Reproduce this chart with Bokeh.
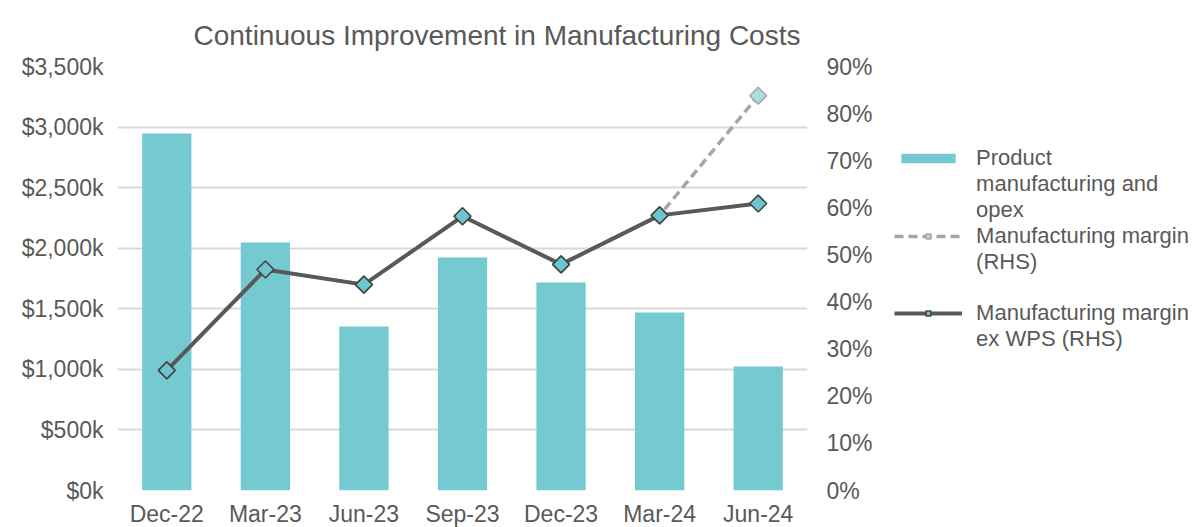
from bokeh.plotting import figure
from bokeh.models import (Range1d, LinearAxis, FixedTicker, Legend, LegendItem, Title, FactorRange)
from bokeh.embed import file_html
from bokeh.resources import INLINE
import math

categories = ["Dec-22", "Mar-23", "Jun-23", "Sep-23", "Dec-23", "Mar-24", "Jun-24"]
costs_k = [2947, 2047, 1354, 1923, 1717, 1469, 1024]
margin_pct = [25.5, 46.9, 43.7, 58.2, 48.0, 58.4, 83.8]
margin_ex_wps_pct = [25.5, 46.9, 43.7, 58.2, 48.0, 58.4, 60.9]
left_ticks = [0, 500, 1000, 1500, 2000, 2500, 3000, 3500]
left_labels = ["$0k", "$500k", "$1,000k", "$1,500k", "$2,000k", "$2,500k", "$3,000k", "$3,500k"]
right_ticks = [0, 10, 20, 30, 40, 50, 60, 70, 80, 90]
right_labels = ["0%", "10%", "20%", "30%", "40%", "50%", "60%", "70%", "80%", "90%"]
legend_lines = [
    ("Product", "bar"), ("manufacturing and", None), ("opex", None),
    ("Manufacturing margin", "dashed"), ("(RHS)", None), (" ", None),
    ("Manufacturing margin", "solid"), ("ex WPS (RHS)", None),
]

FONT = "Liberation Sans"
TXT = "#595959"
GRID = "#D9D9D9"
BAR = "#75C9D0"

p = figure(x_range=FactorRange(*categories), y_range=Range1d(0, 3500),
           frame_width=690, frame_height=424, output_backend="svg",
           toolbar_location=None, min_border_left=117, min_border_top=66,
           min_border_bottom=36, min_border_right=385, outline_line_color=None,
           background_fill_color="white", border_fill_color="white")

p.extra_y_ranges = {"pct": Range1d(0, 90)}

t = Title(text="Continuous Improvement in Manufacturing Costs", text_font=FONT,
          text_font_size="28px", text_font_style="normal", text_color=TXT,
          align="left", offset=76, standoff=31)
p.add_layout(t, "above")

bars = p.vbar(x=categories, top=costs_k, width=0.5, fill_color=BAR, line_color=None)

dashed = p.line(x=categories, y=margin_pct, y_range_name="pct", line_color="#A6A6A6",
                line_width=3.5, line_dash="9 5")
dashed_m = p.scatter(x=categories, y=margin_pct, y_range_name="pct", marker="square",
                     size=12, angle=math.pi / 4, fill_color="#A9DDE3",
                     line_color="#A6A6A6", line_width=1.5)
solid = p.line(x=categories, y=margin_ex_wps_pct, y_range_name="pct", line_color="#595959",
               line_width=4)
solid_m = p.scatter(x=categories, y=margin_ex_wps_pct, y_range_name="pct", marker="square",
                    size=12, angle=math.pi / 4, fill_color="#6CC6CE",
                    line_color="#404040", line_width=1.5)
blank = p.scatter(x=[], y=[], marker="square", size=1, fill_alpha=0, line_alpha=0)

# left axis
ax = p.yaxis[0]
ax.ticker = FixedTicker(ticks=left_ticks)
ax.major_label_overrides = {k: v for k, v in zip(left_ticks, left_labels)}
ax.axis_line_color = None
ax.major_tick_line_color = None
ax.minor_tick_line_color = None
ax.major_label_text_font = FONT
ax.major_label_text_font_size = "23px"
ax.major_label_text_color = TXT
ax.major_label_standoff = 8

# right axis
ra = LinearAxis(y_range_name="pct", ticker=FixedTicker(ticks=right_ticks))
ra.major_label_overrides = {k: v for k, v in zip(right_ticks, right_labels)}
ra.axis_line_color = None
ra.major_tick_line_color = None
ra.minor_tick_line_color = None
ra.major_label_text_font = FONT
ra.major_label_text_font_size = "23px"
ra.major_label_text_color = TXT
ra.major_label_standoff = 13
p.add_layout(ra, "right")

xa = p.xaxis[0]
xa.axis_line_color = None
xa.major_tick_line_color = None
xa.minor_tick_line_color = None
xa.major_label_text_font = FONT
xa.major_label_text_font_size = "23px"
xa.major_label_text_color = TXT
xa.major_label_standoff = 4

p.xgrid.grid_line_color = None
p.ygrid.grid_line_color = GRID
p.ygrid.grid_line_width = 2
p.ygrid.ticker = FixedTicker(ticks=left_ticks)

rmap = {"bar": [bars], "dashed": [dashed, dashed_m], "solid": [solid, solid_m], None: [blank]}
items = [LegendItem(label=txt, renderers=rmap[kind]) for txt, kind in legend_lines]

legend = Legend(items=items, location=(-197, 138), glyph_width=68, glyph_height=12,
                label_text_font=FONT, label_text_font_size="22px", label_text_color=TXT,
                label_height=25, border_line_color=None, background_fill_alpha=0,
                margin=0, padding=0, spacing=0, label_standoff=14)
p.add_layout(legend, "right")

open("out.html", "w").write(file_html(p, INLINE))
